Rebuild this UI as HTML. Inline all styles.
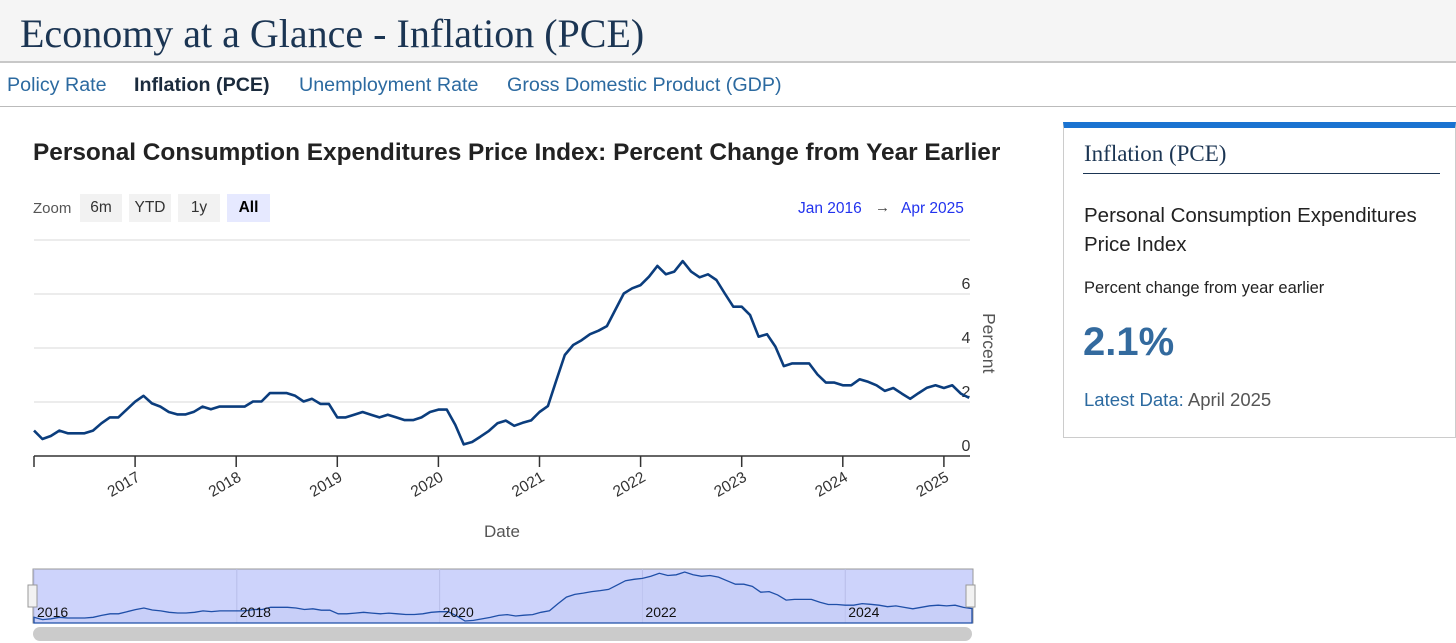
<!DOCTYPE html>
<html><head><meta charset="utf-8"><style>
body{margin:0;width:1456px;height:643px;overflow:hidden;background:#fff;font-family:"Liberation Sans",sans-serif;position:relative}
.a{position:absolute;white-space:nowrap}
</style></head><body>
<div class="a" style="left:0;top:0;width:1456px;height:61px;background:#f5f5f5;border-bottom:2px solid #c8c8c8"></div>
<div class="a" style="left:20px;top:10px;font-family:'Liberation Serif',serif;font-size:40px;color:#1b3553">Economy at a Glance - Inflation (PCE)</div>
<div class="a" style="left:7px;top:74px;font-size:19.7px;color:#2c6aa0">Policy Rate</div>
<div class="a" style="left:134px;top:74px;font-size:19.7px;color:#1b2b3d;font-weight:bold">Inflation (PCE)</div>
<div class="a" style="left:299px;top:74px;font-size:19.7px;color:#2c6aa0">Unemployment Rate</div>
<div class="a" style="left:507px;top:74px;font-size:19.7px;color:#2c6aa0">Gross Domestic Product (GDP)</div>
<div class="a" style="left:0;top:106px;width:1456px;height:1px;background:#bbb"></div>

<div class="a" style="left:33px;top:139px;font-size:24.4px;font-weight:bold;color:#222">Personal Consumption Expenditures Price Index: Percent Change from Year Earlier</div>
<div class="a" style="left:33px;top:200px;font-size:15px;color:#555">Zoom</div>
<div class="a" style="left:80px;top:194px;width:42px;height:28px;background:#f2f2f2;font-size:15.5px;line-height:28px;text-align:center;color:#333">6m</div>
<div class="a" style="left:129px;top:194px;width:42px;height:28px;background:#f2f2f2;font-size:15.5px;line-height:28px;text-align:center;color:#333">YTD</div>
<div class="a" style="left:178px;top:194px;width:42px;height:28px;background:#f2f2f2;font-size:15.5px;line-height:28px;text-align:center;color:#333">1y</div>
<div class="a" style="left:227px;top:194px;width:43px;height:28px;background:#e6e9ff;font-size:15.5px;line-height:28px;text-align:center;color:#000;font-weight:bold">All</div>
<div class="a" style="left:798px;top:200px;font-size:15.5px;color:#2233ee">Jan 2016</div>
<div class="a" style="left:875px;top:199px;font-size:15px;color:#444">→</div>
<div class="a" style="left:901px;top:200px;font-size:15.5px;color:#2233ee">Apr 2025</div>

<svg class="a" style="left:0;top:0" width="1060" height="643">
<g id="grid"></g><g id="xax"></g><g id="yax"></g>
<path id="line" fill="none" stroke="#0b3d7d" stroke-width="2.6" stroke-linejoin="round"/>
<text x="502" y="537" font-size="17" fill="#555" text-anchor="middle" font-family="Liberation Sans">Date</text>
<text transform="translate(983,313) rotate(90)" font-size="17.5" fill="#555" font-family="Liberation Sans">Percent</text>
<rect x="33" y="569" width="940" height="54" fill="#cdd3fb" stroke="#999"/>
<g id="navgrid"></g>
<path id="navline" fill="#c4cbf5" fill-opacity="0.5" stroke="#1f4fa8" stroke-width="1.3"/>
<g id="nav"></g>
<rect x="28" y="585" width="9" height="22" fill="#f2f2f2" stroke="#999"/>
<rect x="966" y="585" width="9" height="22" fill="#f2f2f2" stroke="#999"/>
<rect x="33" y="627" width="939" height="14" rx="7" fill="#cbcbcb"/>
</svg>

<div class="a" style="left:1063px;top:122px;width:393px;height:316px;border:1px solid #ccc;border-top:6px solid #1a73d1;box-sizing:border-box"></div>
<div class="a" style="left:1084px;top:141px;font-family:'Liberation Serif',serif;font-size:23px;color:#1b3553">Inflation (PCE)</div>
<div class="a" style="left:1083px;top:173px;width:357px;height:1px;background:#1b3553"></div>
<div class="a" style="left:1084px;top:201px;font-size:20.5px;color:#222;line-height:29px;white-space:normal;width:365px">Personal Consumption Expenditures Price Index</div>
<div class="a" style="left:1084px;top:279px;font-size:16.5px;color:#222">Percent change from year earlier</div>
<div class="a" style="left:1083px;top:320px;font-size:40px;font-weight:bold;color:#336a9e">2.1%</div>
<div class="a" style="left:1084px;top:389px;font-size:18.5px;color:#555"><span style="color:#2c6aa0">Latest Data:</span> April 2025</div>

<script>
const startYear = 2016;
const yTicks = [0, 2, 4, 6];
const xTickYears = [2016,2017,2018,2019,2020,2021,2022,2023,2024,2025];
const navLabelYears = [2016,2018,2020,2022,2024];
const pce2016 = [0.94,0.63,0.74,0.94,0.84,0.84,0.84,0.94,1.21,1.43,1.43,1.72];
const pce2017 = [2.01,2.23,1.95,1.83,1.63,1.54,1.54,1.64,1.83,1.73,1.83,1.83];
const pce2018 = [1.83,1.83,2.02,2.02,2.33,2.33,2.33,2.23,2.02,2.12,1.93,1.93];
const pce2019 = [1.43,1.43,1.53,1.63,1.53,1.43,1.53,1.43,1.33,1.33,1.43,1.63];
const pce2020 = [1.72,1.72,1.15,0.43,0.52,0.72,0.93,1.21,1.31,1.12,1.23,1.32];
const pce2021 = [1.63,1.85,2.81,3.74,4.11,4.29,4.51,4.64,4.81,5.41,6.02,6.21];
const pce2022 = [6.33,6.64,7.04,6.73,6.83,7.22,6.83,6.62,6.73,6.52,6.02,5.53];
const pce2023 = [5.53,5.22,4.42,4.51,4.05,3.33,3.43,3.43,3.43,3.02,2.72,2.72];
const pce2024 = [2.62,2.62,2.84,2.75,2.62,2.41,2.52,2.31,2.12,2.33,2.53,2.62];
const pce2025 = [2.52,2.62,2.31,2.15];
const values = [].concat(pce2016,pce2017,pce2018,pce2019,pce2020,pce2021,pce2022,pce2023,pce2024,pce2025);

const X0=34, PX_YEAR=101.1;
const xm = m => X0 + m*PX_YEAR/12;
const xy = yr => X0 + (yr-startYear)*PX_YEAR;
const ym = v => 456 - v*27;
const NS='http://www.w3.org/2000/svg';
function mk(tag, attrs, parent, txt){const e=document.createElementNS(NS,tag);for(const k in attrs)e.setAttribute(k,attrs[k]);if(txt!==undefined)e.textContent=txt;parent.appendChild(e);return e;}

const grid=document.getElementById('grid');
[0,2,4,6,8].forEach(v=>{
  const l=mk('line',{x1:34,x2:970,y1:ym(v),y2:ym(v),stroke:v===0?'#333':'#e0e0e0','stroke-width':v===0?1.5:1.2},grid);
  
  
});
const yax=document.getElementById('yax');
yTicks.forEach(v=>{
  const t=mk('text',{x:966,y:ym(v)-5,'font-size':16,fill:'#333','text-anchor':'middle','font-family':'Liberation Sans'},yax,String(v));
  
  
});
const xax=document.getElementById('xax');
xTickYears.forEach(yr=>{
  const x=xy(yr);
  const l=mk('line',{x1:x,x2:x,y1:456,y2:467,stroke:'#333','stroke-width':1.5},xax);
  
  
  if(yr>startYear){
    const t=mk('text',{x:x+6,y:480,'font-size':15.5,fill:'#333','text-anchor':'end','font-family':'Liberation Sans',transform:`rotate(-30 ${x+6} 480)`},xax,String(yr));
    
    
  }
});
document.getElementById('line').setAttribute('d', values.map((v,i)=>(i?'L':'M')+xm(i).toFixed(1)+','+ym(v).toFixed(1)).join(''));

// navigator
const NX0=34, NX1=972, NY0=572, NY1=621;
const maxV=Math.max(...values), minV=Math.min(...values);
const nx = m => NX0 + m*(NX1-NX0)/(values.length-1);
const ny = v => NY1 - (v-minV)/(maxV-minV)*(NY1-NY0);
const navgrid=document.getElementById('navgrid');
const nav=document.getElementById('nav');
navLabelYears.forEach(yr=>{
  const x=nx((yr-startYear)*12);
  const l=mk('line',{x1:x,x2:x,y1:569,y2:623,stroke:'#b8bde8'},navgrid);
  
  
  const t=mk('text',{x:x+3,y:617,'font-size':14,fill:'#111','font-family':'Liberation Sans'},nav,String(yr));
  
  
});
document.getElementById('navline').setAttribute('d', values.map((v,i)=>(i?'L':'M')+nx(i).toFixed(1)+','+ny(v).toFixed(1)).join('')+`L${NX1},623L${NX0},623Z`);
</script>
</body></html>
